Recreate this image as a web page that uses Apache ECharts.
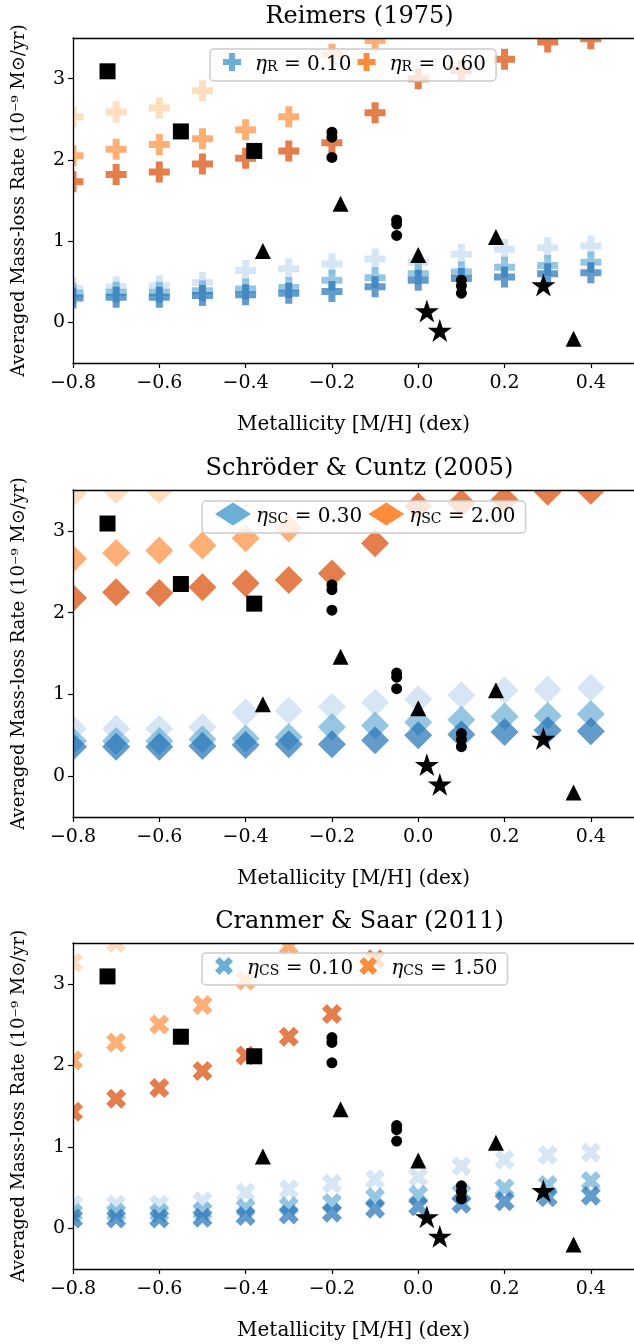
<!DOCTYPE html>
<html><head><meta charset="utf-8">
<script src="https://cdn.jsdelivr.net/npm/echarts@6/dist/echarts.min.js"></script>
<style>html,body{margin:0;padding:0;background:#fff}#c{width:634px;height:1344px}</style>
</head><body><div id="c"></div>
<script>
// ---------------- data ----------------
const metallicity = [-0.8,-0.7,-0.6,-0.5,-0.4,-0.3,-0.2,-0.1,0.0,0.1,0.2,0.3,0.4];

// Reimers (1975)
const reimersBlueLight  = [0.42,0.44,0.45,0.49,0.64,0.66,0.72,0.78,0.74,0.84,0.90,0.92,0.94];
const reimersBlueMid    = [0.36,0.37,0.37,0.39,0.41,0.43,0.52,0.55,0.60,0.62,0.68,0.70,0.74];
const reimersBlueDark   = [0.30,0.31,0.31,0.33,0.34,0.36,0.38,0.44,0.52,0.54,0.56,0.60,0.61];
const reimersOrangeLight= [2.53,2.59,2.64,2.85,null,null,null,null,null,null,null,null,null];
const reimersOrangeMid  = [2.05,2.13,2.19,2.26,2.37,2.53,3.30,3.47,null,null,null,null,null];
const reimersOrangeDark = [1.73,1.82,1.85,1.95,2.02,2.11,2.21,2.58,3.00,3.10,3.24,3.45,3.49];

// Schröder & Cuntz (2005)
const scBlueLight  = [0.58,0.58,0.58,0.60,0.78,0.80,0.85,0.90,0.94,0.99,1.05,1.06,1.08];
const scBlueMid    = [0.43,0.43,0.43,0.45,0.46,0.48,0.60,0.62,0.66,0.69,0.73,0.74,0.76];
const scBlueDark   = [0.36,0.36,0.36,0.37,0.38,0.39,0.39,0.44,0.50,0.51,0.54,0.56,0.55];
const scOrangeLight= [3.46,3.50,3.50,null,null,null,null,null,null,null,null,null,null];
const scOrangeMid  = [2.66,2.73,2.76,2.82,2.91,3.03,null,null,null,null,null,null,null];
const scOrangeDark = [2.18,2.25,2.24,2.31,2.36,2.40,2.48,2.85,3.30,3.34,3.38,3.48,3.49];

// Cranmer & Saar (2011)
const csBlueLight  = [0.29,0.29,0.29,0.33,0.44,0.48,0.55,0.60,0.63,0.76,0.84,0.90,0.93];
const csBlueMid    = [0.19,0.19,0.19,0.21,0.25,0.27,0.31,0.38,0.41,0.43,0.49,0.53,0.58];
const csBlueDark   = [0.12,0.12,0.12,0.13,0.15,0.17,0.19,0.24,0.27,0.30,0.33,0.38,0.40];
const csOrangeLight= [3.26,3.50,null,null,null,null,null,null,null,null,null,null,null];
const csOrangeMid  = [2.06,2.28,2.50,2.74,3.04,3.46,null,null,null,null,null,null,null];
const csOrangeDark = [1.43,1.59,1.72,1.93,2.12,2.35,2.63,3.30,null,null,null,null,null];

// observations (black markers)
const squareX   = [-0.72,-0.55,-0.38];
const squareY   = [3.09,2.35,2.11];
const circleX   = [-0.2,-0.2,-0.2,-0.05,-0.05,-0.05,0.1,0.1,0.1];
const circleY   = [2.34,2.28,2.03,1.26,1.21,1.07,0.52,0.45,0.36];
const triangleX = [-0.36,-0.18,0.0,0.18,0.36];
const triangleY = [0.88,1.46,0.83,1.05,-0.20];
const starX     = [0.02,0.05,0.29];
const starY     = [0.14,-0.10,0.46];

// text
const panelTitles = ['Reimers (1975)','Schröder & Cuntz (2005)','Cranmer & Saar (2011)'];
const etaSub   = ['R','SC','CS'];
const etaLow   = ['0.10','0.30','0.10'];
const etaHigh  = ['0.60','2.00','1.50'];
const xTicks = [-0.8,-0.6,-0.4,-0.2,0.0,0.2,0.4];
const yTicks = [0,1,2,3];
const xName = 'Metallicity [M/H] (dex)';

// ---------------- layout / style ----------------
const FONT = 'DejaVu Serif';
const GRID_LEFT = 73, GRID_W = 563;
const panelTops = [38, 490, 943];
const panelHeights = [325, 327, 326];
const legendBoxes = [{left:210, top:49},{left:202, top:501},{left:202, top:953}];

const PLUS  = 'path://M-1,-3L1,-3L1,-1L3,-1L3,1L1,1L1,3L-1,3L-1,1L-3,1L-3,-1L-1,-1Z';
const XMARK = 'path://M2,-4L4,-2L2,0L4,2L2,4L0,2L-2,4L-4,2L-2,0L-4,-2L-2,-4L0,-2Z';
const STAR  = 'path://M0,-1L0.2245,-0.309L0.951,-0.309L0.3633,0.118L0.588,0.809L0,0.382L-0.588,0.809L-0.3633,0.118L-0.951,-0.309L-0.2245,-0.309Z';
const markers = [{sym:PLUS,size:21,icon:18},{sym:'diamond',size:28,icon:23},{sym:XMARK,size:20,icon:18}];
const blueCols   = ['rgba(198,219,239,0.7)','rgba(107,174,214,0.7)','rgba(33,113,181,0.7)'];
const orangeCols = ['rgba(253,208,162,0.7)','rgba(253,141,60,0.7)','rgba(217,72,1,0.7)'];

const panelData = [
  {blue:[reimersBlueLight,reimersBlueMid,reimersBlueDark], orange:[reimersOrangeLight,reimersOrangeMid,reimersOrangeDark]},
  {blue:[scBlueLight,scBlueMid,scBlueDark], orange:[scOrangeLight,scOrangeMid,scOrangeDark]},
  {blue:[csBlueLight,csBlueMid,csBlueDark], orange:[csOrangeLight,csOrangeMid,csOrangeDark]}
];

const fmtTick = v => (Math.abs(v) < 1e-9 ? '0.0' : v.toFixed(1)).replace('-', '\u2212');
const pairs = (xs, ys) => xs.map((x,k)=>[x, ys[k]]).filter(d => d[1] !== null);

const grid = [], xAxis = [], yAxis = [], series = [], title = [], legend = [], graphic = [];

panelTops.forEach((top, i) => {
  const h = panelHeights[i];
  grid.push({left: GRID_LEFT, top: top, width: GRID_W, height: h});
  const axLine = {show:true, onZero:false, lineStyle:{color:'#000', width:1.3}};
  xAxis.push({
    gridIndex:i, type:'value', min:-0.8, max:0.5, position:'bottom', z:5,
    axisLine: axLine,
    axisTick: {show:true, inside:false, length:5, lineStyle:{color:'#000', width:1.2}, customValues:xTicks},
    axisLabel: {customValues:xTicks, formatter: fmtTick, fontFamily:FONT, fontSize:19, color:'#000', margin:11},
    splitLine: {show:false},
    name: xName, nameLocation:'middle', nameGap:52,
    nameTextStyle: {fontFamily:FONT, fontSize:20, color:'#000'}
  });
  xAxis.push({
    gridIndex:i, type:'value', min:-0.8, max:0.5, position:'top', z:5,
    axisLine: axLine, axisTick:{show:false}, axisLabel:{show:false}, splitLine:{show:false}
  });
  yAxis.push({
    gridIndex:i, type:'value', min:-0.5, max:3.5, z:5,
    axisLine: axLine,
    axisTick: {show:true, inside:false, length:5, lineStyle:{color:'#000', width:1.2}, customValues:yTicks},
    axisLabel: {customValues:yTicks, formatter: v => String(Math.round(v)), fontFamily:FONT, fontSize:19, color:'#000', margin:8},
    splitLine: {show:false},
    name: 'Averaged Mass-loss Rate (10\u207B\u2079 M\u2299/yr)', nameLocation:'middle', nameRotate:90, nameGap:45,
    nameTextStyle: {fontFamily:FONT, fontSize:18, color:'#000'}
  });
  title.push({
    text: panelTitles[i], left: GRID_LEFT + GRID_W/2, textAlign:'center', top: top - 38,
    textStyle: {fontFamily:FONT, fontSize:24, fontWeight:'normal', color:'#000'}
  });

  const m = markers[i];
  const mk = (name, ys, color) => ({
    name, type:'scatter', xAxisIndex:2*i, yAxisIndex:i, data: pairs(metallicity, ys),
    symbol: m.sym, symbolSize: m.size, itemStyle:{color, opacity:1}, emphasis:{disabled:true}, z:2
  });
  panelData[i].blue.forEach((ys,k) => series.push(mk('b'+i+'_'+k, ys, blueCols[k])));
  panelData[i].orange.forEach((ys,k) => series.push(mk('o'+i+'_'+k, ys, orangeCols[k])));

  const obs = (name, xs, ys, symbol, size, keep) => ({
    name, type:'scatter', xAxisIndex:2*i, yAxisIndex:i, data: pairs(xs, ys),
    symbol, symbolSize:size, symbolKeepAspect: !!keep, itemStyle:{color:'#000', opacity:1}, emphasis:{disabled:true}, z:2
  });
  series.push(obs('sq'+i, squareX, squareY, 'rect', 16));
  series.push(obs('ci'+i, circleX, circleY, 'circle', 11));
  series.push(obs('tr'+i, triangleX, triangleY, 'triangle', 16));
  series.push(obs('st'+i, starX, starY, STAR, 24, true));

  // legend proxy series
  const lowName = 'low'+i, highName = 'high'+i;
  series.push({name:lowName, type:'scatter', xAxisIndex:2*i, yAxisIndex:i, data:[], symbol:m.sym, itemStyle:{color:'#6baed6', opacity:1}});
  series.push({name:highName, type:'scatter', xAxisIndex:2*i, yAxisIndex:i, data:[], symbol:m.sym, itemStyle:{color:'#fd8d3c', opacity:1}});
  legend.push({
    left: legendBoxes[i].left, top: legendBoxes[i].top, orient:'horizontal',
    data: [{name:lowName, icon:m.sym, itemStyle:{opacity:1}}, {name:highName, icon:m.sym, itemStyle:{opacity:1}}],
    selectedMode:false, itemWidth:36, itemHeight:m.icon, itemGap:6,
    padding:[1,10,1,13], backgroundColor:'rgba(255,255,255,0.8)', borderColor:'#cccccc', borderWidth:1.5, borderRadius:4,
    formatter: name => '{e|\u03B7}{s|' + etaSub[i] + '}{t| = ' + (name===lowName ? etaLow[i] : etaHigh[i]) + '}',
    textStyle: {fontFamily:FONT, fontSize:20, color:'#000', rich:{
      e:{fontFamily:FONT, fontSize:20, fontStyle:'italic', lineHeight:24, padding:[5,0,5,0], verticalAlign:'top'},
      s:{fontFamily:FONT, fontSize:14, lineHeight:24, padding:[10,0,0,0], verticalAlign:'top'},
      t:{fontFamily:FONT, fontSize:20, lineHeight:24, padding:[5,0,5,0], verticalAlign:'top'}
    }}
  });

  // masks emulating axes clipping of markers
  graphic.push({type:'rect', z:3, silent:true, shape:{x:0, y:top-22, width:GRID_LEFT, height:h+22}, style:{fill:'#fff'}});
  graphic.push({type:'rect', z:3, silent:true, shape:{x:GRID_LEFT, y:top-22, width:634-GRID_LEFT, height:22}, style:{fill:'#fff'}});
});

const chart = echarts.init(document.getElementById('c'), null, {renderer:'canvas'});
chart.setOption({animation:false, backgroundColor:'#fff', title, grid, xAxis, yAxis, legend, series, graphic});
</script></body></html>
